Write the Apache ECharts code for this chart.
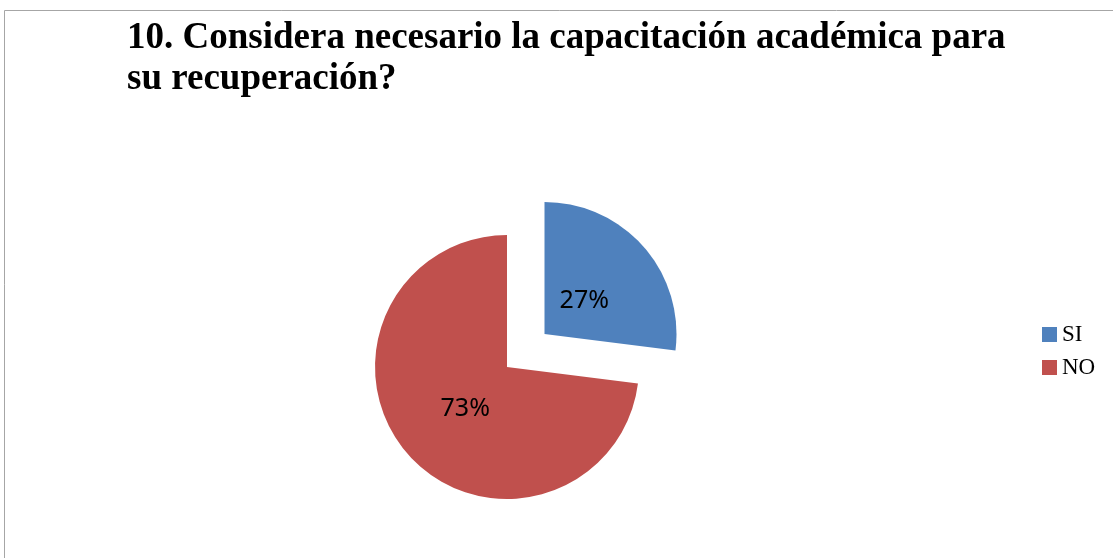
<!DOCTYPE html>
<html>
<head>
<meta charset="utf-8">
<script src="https://cdn.jsdelivr.net/npm/echarts@6/dist/echarts.min.js"></script>
<style>
  html, body { margin: 0; padding: 0; background: #fff; }
  #chart { width: 1113px; height: 558px; }
</style>
</head>
<body>
<div id="chart"></div>
<script>
// categorias y porcentajes
const categorias = ['SI', 'NO'];
const valores = [27, 73];
const colores = ['#4F81BD', '#C0504D'];
// relleno para acercar la etiqueta al centro como en el original
const rellenoEtiqueta = [[0, 24, 0, 0], [0, 0, 0, 20]];
const formatoEtiqueta = ['{g|}\n{v|{c}%}', '{v|{c}%}\n{h|}'];

const myChart = echarts.init(document.getElementById('chart'));

const option = {
  backgroundColor: '#fff',
  animation: false,
  // marco gris del grafico
  graphic: [{
    type: 'rect',
    shape: { x: 4.5, y: 10.5, width: 1300, height: 800 },
    style: { fill: 'none', stroke: '#a6a6a6', lineWidth: 1 },
    silent: true
  }],
  title: {
    text: '10. Considera necesario la capacitación académica para\nsu recuperación?',
    left: 122,
    top: 13,
    textStyle: {
      fontFamily: 'Liberation Serif',
      fontWeight: 'bold',
      fontSize: 37,
      lineHeight: 41,
      color: '#000'
    }
  },
  legend: {
    orient: 'vertical',
    left: 1042,
    top: 323,
    padding: 0,
    itemWidth: 15,
    itemHeight: 15,
    itemGap: 10,
    icon: 'rect',
    data: categorias,
    textStyle: {
      fontFamily: 'Liberation Serif',
      fontSize: 23,
      color: '#000'
    }
  },
  series: [{
    type: 'pie',
    center: [507, 367],
    radius: 132,
    startAngle: 90,
    clockwise: true,
    selectedMode: 'multiple',
    selectedOffset: 50,
    label: {
      show: true,
      position: 'inside',
      fontFamily: 'Noto Sans',
      fontSize: 25,
      color: '#000',
      rich: {
        v: { fontFamily: 'Noto Sans', fontSize: 25, color: '#000', lineHeight: 30 },
        g: { fontSize: 1, lineHeight: 26 },
        h: { fontSize: 1, lineHeight: 8 }
      }
    },
    labelLine: { show: false },
    emphasis: { disabled: true },
    data: categorias.map((name, i) => ({
      name: name,
      value: valores[i],
      selected: i === 0,
      itemStyle: { color: colores[i] },
      label: { padding: rellenoEtiqueta[i], formatter: formatoEtiqueta[i] }
    }))
  }]
};

myChart.setOption(option);
</script>
</body>
</html>
